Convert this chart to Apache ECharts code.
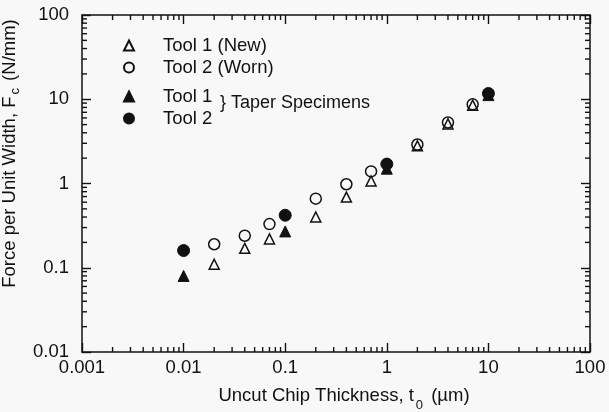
<!DOCTYPE html>
<html>
<head>
<meta charset="utf-8">
<script src="https://cdn.jsdelivr.net/npm/echarts@6/dist/echarts.min.js"></script>
<style>
  html, body { margin: 0; padding: 0; background: #f8f8f8; }
  #chart { width: 609px; height: 412px; }
</style>
</head>
<body>
<div id="chart"></div>
<script>
// chip thickness (um) and force per unit width (N/mm)
var tool1NewX = [0.02, 0.04, 0.07, 0.2, 0.4, 0.7, 2, 4, 7];
var tool1NewY = [0.11, 0.17, 0.22, 0.40, 0.69, 1.07, 2.8, 5.1, 8.5];
var tool2WornX = [0.02, 0.04, 0.07, 0.2, 0.4, 0.7, 2, 4, 7];
var tool2WornY = [0.19, 0.24, 0.33, 0.66, 0.98, 1.39, 2.9, 5.3, 8.7];
var taper1X = [0.01, 0.1, 1, 10];
var taper1Y = [0.08, 0.27, 1.5, 11.2];
var taper2X = [0.01, 0.1, 1, 10];
var taper2Y = [0.16, 0.42, 1.7, 11.7];

var xTickLabels = ['0.001', '0.01', '0.1', '1', '10', '100'];
var yTickLabels = ['0.01', '0.1', '1', '10', '100'];
var minorSteps = [2, 3, 4, 5, 6, 7, 8, 9];
var xDecades = [0.001, 0.01, 0.1, 1, 10];
var yDecades = [0.01, 0.1, 1, 10];

var FONT = '"Liberation Sans", Arial, sans-serif';
var INK = '#111';
var X_MIN = 0.001, X_MAX = 100, Y_MIN = 0.01, Y_MAX = 100;

function pairs(xs, ys) {
    return xs.map(function (x, i) { return [x, ys[i]] });
}

function logAxis(extra) {
    var base = {
        type: 'log',
        logBase: 10,
        axisLine: { show: true, lineStyle: { color: INK, width: 1.5 } },
        axisTick: { show: true, inside: true, length: 9, lineStyle: { color: INK, width: 1.4 } },
        splitLine: { show: false },
        axisLabel: { show: false }
    };
    return Object.assign(base, extra);
}

var openStyle = { color: 'rgba(0,0,0,0)', borderColor: INK, borderWidth: 1.5, opacity: 1 };
var fillStyle = { color: INK, borderColor: INK, borderWidth: 1, opacity: 1 };

var chart = echarts.init(document.getElementById('chart'), null, { renderer: 'canvas' });
chart.setOption({
    backgroundColor: '#f8f8f8',
    animation: false,
    textStyle: { fontFamily: FONT },
    grid: { left: 82, right: 19, top: 15, bottom: 60, outerBoundsMode: 'none' },
    legend: [{
        orient: 'vertical',
        left: 118,
        top: 31,
        itemWidth: 10,
        itemHeight: 10,
        itemGap: 3,
        textStyle: { fontFamily: FONT, fontSize: 18.5, color: INK, padding: [0, 0, 0, 24] },
        data: ['Tool 1 (New)', 'Tool 2 (Worn)']
    }, {
        orient: 'vertical',
        left: 118,
        top: 82,
        itemWidth: 10,
        itemHeight: 10,
        itemGap: 3,
        textStyle: { fontFamily: FONT, fontSize: 18.5, color: INK, padding: [0, 0, 0, 24] },
        data: ['Tool 1', 'Tool 2']
    }],
    xAxis: [logAxis({
        position: 'bottom',
        min: X_MIN,
        max: X_MAX,
        axisLabel: {
            show: true, margin: 6, color: INK, fontSize: 18.5, fontFamily: FONT,
            formatter: function (v, i) { return xTickLabels[i] }
        },
        name: 'Uncut Chip Thickness, t{sub|0} (\u00b5m)',
        nameLocation: 'middle',
        nameGap: 28,
        nameTextStyle: {
            color: INK, fontSize: 18.5, fontFamily: FONT,
            padding: [0, 0, 0, 16],
            rich: { sub: { fontSize: 13, fontFamily: FONT, color: INK, padding: [19, 3, 0, 2] } }
        }
    }), logAxis({ position: 'top', min: X_MIN, max: X_MAX })],
    yAxis: [logAxis({
        position: 'left',
        min: Y_MIN,
        max: Y_MAX,
        axisLabel: {
            show: true, margin: 13, color: INK, fontSize: 18.5, fontFamily: FONT,
            formatter: function (v, i) { return yTickLabels[i] }
        },
        name: 'Force per Unit Width, F{sub|c} (N/mm)',
        nameLocation: 'middle',
        nameGap: 55,
        nameTextStyle: {
            color: INK, fontSize: 18.5, fontFamily: FONT,
            padding: [0, 0, 0, 60],
            rich: { sub: { fontSize: 13, fontFamily: FONT, color: INK, padding: [12, 2, 0, 2] } }
        }
    }), logAxis({ position: 'right', min: Y_MIN, max: Y_MAX })],
    series: [{
        name: 'Tool 2 (Worn)',
        type: 'scatter',
        symbol: 'circle',
        symbolSize: 11,
        itemStyle: openStyle,
        data: pairs(tool2WornX, tool2WornY)
    }, {
        name: 'Tool 1 (New)',
        type: 'scatter',
        symbol: 'triangle',
        symbolSize: 10,
        itemStyle: openStyle,
        data: pairs(tool1NewX, tool1NewY)
    }, {
        name: 'Tool 1',
        type: 'scatter',
        symbol: 'triangle',
        symbolSize: 11,
        itemStyle: fillStyle,
        data: pairs(taper1X, taper1Y)
    }, {
        name: 'Tool 2',
        type: 'scatter',
        symbol: 'circle',
        symbolSize: 12,
        itemStyle: fillStyle,
        data: pairs(taper2X, taper2Y)
    }]
});

// minor log ticks (2..9 per decade) on all four sides, placed through the axis scales
var len = 5;
var tickStyle = { stroke: INK, lineWidth: 1.4 };
var marks = [];
xDecades.forEach(function (d) {
    minorSteps.forEach(function (s) {
        var b = chart.convertToPixel({ gridIndex: 0 }, [s * d, Y_MIN]);
        var t = chart.convertToPixel({ gridIndex: 0 }, [s * d, Y_MAX]);
        marks.push({ type: 'line', shape: { x1: b[0], y1: b[1], x2: b[0], y2: b[1] - len }, style: tickStyle, silent: true, z: 10 });
        marks.push({ type: 'line', shape: { x1: t[0], y1: t[1], x2: t[0], y2: t[1] + len }, style: tickStyle, silent: true, z: 10 });
    });
});
yDecades.forEach(function (d) {
    minorSteps.forEach(function (s) {
        var l = chart.convertToPixel({ gridIndex: 0 }, [X_MIN, s * d]);
        var r = chart.convertToPixel({ gridIndex: 0 }, [X_MAX, s * d]);
        marks.push({ type: 'line', shape: { x1: l[0], y1: l[1], x2: l[0] + len, y2: l[1] }, style: tickStyle, silent: true, z: 10 });
        marks.push({ type: 'line', shape: { x1: r[0], y1: r[1], x2: r[0] - len, y2: r[1] }, style: tickStyle, silent: true, z: 10 });
    });
});
marks.push({
    type: 'text',
    left: 220,
    top: 94,
    style: { text: '} Taper Specimens', font: '18px ' + FONT, fill: INK }
});
chart.setOption({ graphic: marks });
</script>
</body>
</html>
